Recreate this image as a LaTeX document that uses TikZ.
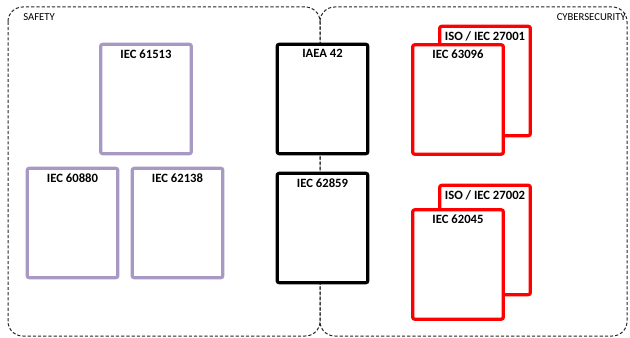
\documentclass[tikz,border=0pt]{standalone}
\usepackage{fontspec}
\setmainfont{Carlito}
\usepackage{tikz}

\tikzset{
  doc/.style={draw, fill=white, line width=2.4pt, rounded corners=1.5pt, inner sep=0pt, outer sep=0pt, minimum width=68pt, minimum height=82pt},
  safedoc/.style={doc, draw=lilac},
  iaeadoc/.style={doc, draw=black},
  cyberdoc/.style={doc, draw=red},
  doctitle/.style={anchor=north, yshift=-1.6pt, inner sep=2pt, font=\fontsize{9.5}{11}\selectfont\bfseries},
  region/.style={draw=black!85, line width=0.75pt, dash pattern=on 2.4pt off 1.5pt, rounded corners=11pt},
  regiontitle/.style={font=\fontsize{8}{9}\selectfont, inner sep=0pt}
}
\definecolor{lilac}{RGB}{168,152,196}

\begin{document}
\begin{tikzpicture}[x=0.75pt, y=-0.75pt]
\useasboundingbox (0,0) rectangle (630,338);
% Regions
\draw[region] (8,7) rectangle (320,336);
\draw[region] (320,7) rectangle (627,336);
\node[regiontitle, anchor=north west] (safety) at (23,13) {SAFETY};
\node[regiontitle, anchor=north east] (cyber) at (626,13) {CYBERSECURITY};

% Safety standards
\node[safedoc] (iec61513) at (146,99) {};
\node[safedoc] (iec60880) at (72.5,223) {};
\node[safedoc] (iec62138) at (177.5,223) {};
\node[doctitle] at (iec61513.north) {IEC 61513};
\node[doctitle] at (iec60880.north) {IEC 60880};
\node[doctitle] at (iec62138.north) {IEC 62138};

% IAEA / shared
\node[iaeadoc] (iaea42) at (322.5,99) {};
\node[iaeadoc] (iec62859) at (322.5,228) {};
\node[doctitle] at (iaea42.north) {IAEA 42};
\node[doctitle] at (iec62859.north) {IEC 62859};

% Cybersecurity standards
\node[cyberdoc] (iso27001) at (485,81) {};
\node[doctitle] at (iso27001.north) {ISO / IEC 27001};
\node[cyberdoc] (iec63096) at (458,99.5) {};
\node[doctitle] at (iec63096.north) {IEC 63096};
\node[cyberdoc] (iso27002) at (485,240) {};
\node[doctitle] at (iso27002.north) {ISO / IEC 27002};
\node[cyberdoc] (iec62045) at (458,264.5) {};
\node[doctitle] at (iec62045.north) {IEC 62045};

\end{tikzpicture}
\end{document}
